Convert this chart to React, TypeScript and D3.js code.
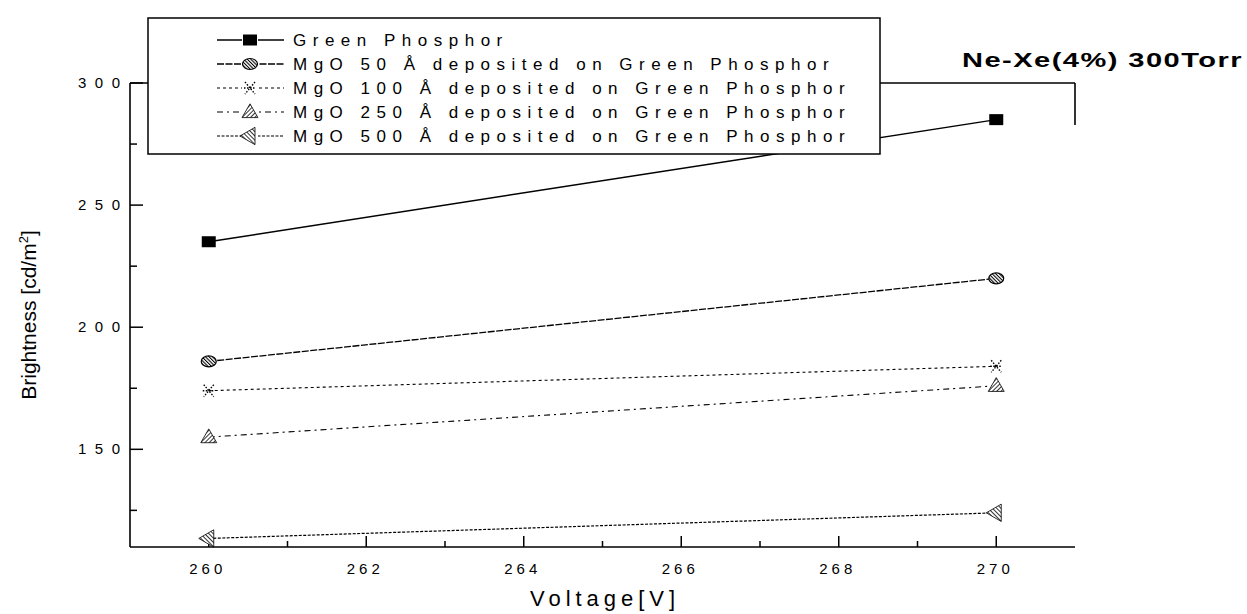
import React from "react";
import * as d3 from "d3";

const voltages = [260, 270];
const seriesNames = [
  "Green Phosphor",
  "MgO 50 Å deposited on Green Phosphor",
  "MgO 100 Å deposited on Green Phosphor",
  "MgO 250 Å deposited on Green Phosphor",
  "MgO 500 Å deposited on Green Phosphor",
];
const greenPhosphor = [235, 285];
const mgo50 = [186, 220];
const mgo100 = [174, 184];
const mgo250 = [155, 176];
const mgo500 = [113.5, 124];
const xTicks = [260, 262, 264, 266, 268, 270];
const xMinorTicks = [261, 263, 265, 267, 269];
const yTicks = [150, 200, 250, 300];
const yMinorTicks = [125, 175, 225, 275];
const titleText = "Ne-Xe(4%) 300Torr";
const xTitle = "Voltage[V]";

const FONT = "'Liberation Sans', Arial, Helvetica, sans-serif";

type Marker = "square" | "circle" | "cross" | "triUp" | "triLeft";

const seriesValues = [greenPhosphor, mgo50, mgo100, mgo250, mgo500];
const markers: Marker[] = ["square", "circle", "cross", "triUp", "triLeft"];
const dashes = ["", "7 1.5", "3 3", "6 4 2 4", "3 1.5"];
const widths = [1.5, 1.3, 1.1, 1.1, 1.2];

function MarkerShape({ kind, cx, cy }: { kind: Marker; cx: number; cy: number }) {
  if (kind === "square") return <rect x={cx - 7} y={cy - 5.5} width={14} height={11} fill="#000" />;
  if (kind === "circle") return <ellipse cx={cx} cy={cy} rx={7.5} ry={5.5} fill="url(#hatchDense)" stroke="#000" strokeWidth={1.2} />;
  if (kind === "cross") {
    return (
      <g stroke="#000" strokeWidth={1.4} strokeDasharray="1.5 1.5" fill="none">
        <path d={`M${cx - 5},${cy - 6}L${cx + 5},${cy + 6}M${cx + 5},${cy - 6}L${cx - 5},${cy + 6}`} />
        <path d={`M${cx - 6},${cy}L${cx + 6},${cy}`} />
      </g>
    );
  }
  if (kind === "triUp") {
    const p = d3.symbol().type(d3.symbolTriangle).size(110)();
    return <path d={p as string} transform={`translate(${cx},${cy + 1})`} fill="url(#hatch)" stroke="#000" strokeWidth={0.8} />;
  }
  const p = d3.symbol().type(d3.symbolTriangle).size(130)();
  return <path d={p as string} transform={`translate(${cx},${cy}) rotate(-90)`} fill="url(#hatch)" stroke="#000" strokeWidth={0.8} />;
}

export default function App() {
  const W = 1247;
  const H = 614;
  const x = d3.scaleLinear().domain([259, 271]).range([130, 1075]);
  const y = d3.scaleLinear().domain([110, 300]).range([547, 83]);
  const line = d3
    .line<number>()
    .x((_, i) => x(voltages[i]))
    .y((d) => y(d));

  const left = x.range()[0];
  const right = x.range()[1];
  const bottom = y.range()[0];
  const top = y.range()[1];

  const legX = 148;
  const legY = 18;
  const legW = 732;
  const legH = 136;
  const rowY = (i: number) => 40 + i * 24;

  return (
    <svg
      width={W}
      height={H}
      style={{ position: "absolute", left: 0, top: 0, background: "#fff" }}
      fontFamily={FONT}
    >
      <defs>
        <pattern id="hatch" width="3" height="3" patternUnits="userSpaceOnUse" patternTransform="rotate(45)">
          <rect width="3" height="3" fill="#fff" />
          <line x1="0" y1="0" x2="0" y2="3" stroke="#000" strokeWidth="1.6" />
        </pattern>
        <pattern id="hatchDense" width="2.5" height="2.5" patternUnits="userSpaceOnUse" patternTransform="rotate(-45)">
          <rect width="2.5" height="2.5" fill="#fff" />
          <line x1="0" y1="0" x2="0" y2="2.5" stroke="#000" strokeWidth="2.1" />
        </pattern>
      </defs>
      <rect width={W} height={H} fill="#fff" />

      {/* frame */}
      <g stroke="#000" strokeWidth={1.6} fill="none">
        <line x1={left} y1={top} x2={left} y2={bottom} />
        <line x1={left} y1={bottom} x2={right} y2={bottom} />
        <line x1={left} y1={top} x2={right} y2={top} />
        <line x1={right} y1={top} x2={right} y2={top + 42} />
      </g>

      {/* ticks */}
      <g stroke="#000" strokeWidth={1.5}>
        {xTicks.map((t) => (
          <line key={"xt" + t} x1={x(t)} x2={x(t)} y1={bottom} y2={bottom - 11} />
        ))}
        {xMinorTicks.map((t) => (
          <line key={"xm" + t} x1={x(t)} x2={x(t)} y1={bottom} y2={bottom - 6} />
        ))}
        {yTicks.map((t) => (
          <line key={"yt" + t} x1={left} x2={left + 13} y1={y(t)} y2={y(t)} />
        ))}
        {yMinorTicks.map((t) => (
          <line key={"ym" + t} x1={left} x2={left + 7} y1={y(t)} y2={y(t)} />
        ))}
      </g>

      {/* tick labels */}
      <g fontSize={15} fill="#000">
        {xTicks.map((t) => (
          <text key={"xl" + t} x={x(t) - 3} y={574} textAnchor="middle" textLength={33} lengthAdjust="spacing">
            {String(t)}
          </text>
        ))}
        {yTicks.map((t) => (
          <text key={"yl" + t} x={120} y={y(t) + 5} textAnchor="end" textLength={42} lengthAdjust="spacing">
            {String(t)}
          </text>
        ))}
      </g>

      {/* axis titles */}
      <text x={(left + right) / 2} y={606} textAnchor="middle" fontSize={22} textLength={145} lengthAdjust="spacing">
        {xTitle}
      </text>
      <text transform={`translate(36,${(top + bottom) / 2}) rotate(-90)`} textAnchor="middle" fontSize={21}>
        Brightness [cd/m
        <tspan fontSize={13} dy={-8}>2</tspan>
        <tspan dy={8}>]</tspan>
      </text>

      {/* series */}
      {seriesValues.map((vals, si) => (
        <g key={"s" + si}>
          <path
            d={line(vals) as string}
            fill="none"
            stroke="#000"
            strokeWidth={widths[si]}
            strokeDasharray={dashes[si] || undefined}
          />
          {vals.map((v, i) => (
            <MarkerShape key={i} kind={markers[si]} cx={x(voltages[i])} cy={y(v)} />
          ))}
        </g>
      ))}

      {/* legend */}
      <rect x={legX} y={legY} width={legW} height={legH} fill="#fff" stroke="#000" strokeWidth={1.5} />
      {seriesNames.map((name, i) => (
        <g key={"lg" + i}>
          <line
            x1={217}
            x2={284}
            y1={rowY(i)}
            y2={rowY(i)}
            stroke="#000"
            strokeWidth={widths[i]}
            strokeDasharray={dashes[i] || undefined}
          />
          <rect x={242} y={rowY(i) - 6} width={16} height={12} fill="#fff" />
          <MarkerShape kind={markers[i]} cx={250} cy={rowY(i)} />
          <text x={293} y={rowY(i) + 6} fontSize={17} letterSpacing={6.5}>
            {name}
          </text>
        </g>
      ))}

      {/* title */}
      <text x={962} y={67} fontSize={20} fontWeight="bold" letterSpacing={1} textLength={281} lengthAdjust="spacingAndGlyphs">
        {titleText}
      </text>
    </svg>
  );
}
